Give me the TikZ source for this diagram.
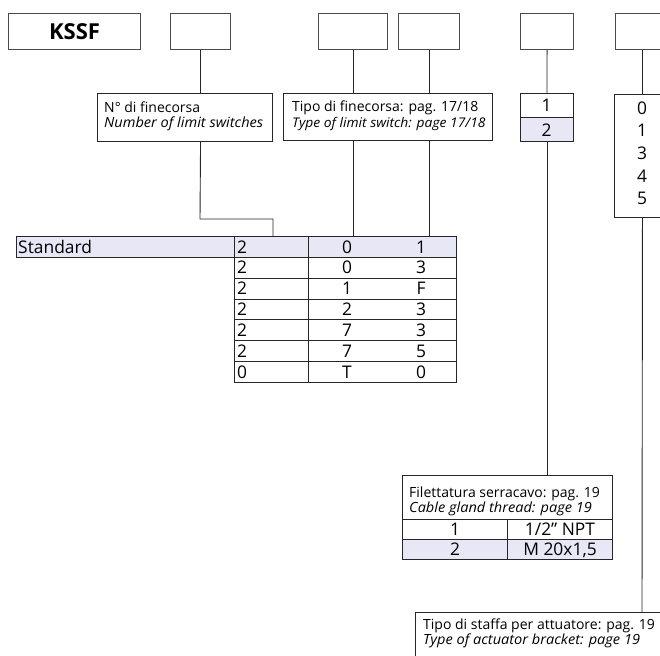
\documentclass[tikz,border=0pt]{standalone}
\usepackage{fontspec}
\setmainfont{Open Sans}[ItalicFeatures={FakeStretch=1.04}]
\definecolor{shade}{HTML}{E7E7F6}
\definecolor{frame}{HTML}{4A4A4A}
\begin{document}
\begin{tikzpicture}[x=1pt,y=-1pt,
  box/.style={draw=frame, line width=1.1pt, inner sep=0pt, anchor=north west},
  tab/.style={draw=black!85, line width=0.9pt, inner sep=0pt, anchor=north west},
  conn/.style={draw=black!85, line width=0.9pt},
  info/.style={font=\fontsize{14}{15}\selectfont, anchor=base west, inner sep=0pt},
  infoi/.style={font=\fontsize{14}{15}\selectfont\itshape, anchor=base west, inner sep=0pt},
  cell/.style={font=\fontsize{17.4}{18}\selectfont, inner sep=0pt, anchor=base},
  celll/.style={font=\fontsize{17.4}{18}\selectfont, inner sep=0pt, anchor=base west},
]
\useasboundingbox (0,0) rectangle (660,655);

% top boxes
\node[box, minimum width=132pt, minimum height=36pt, font=\bfseries\fontsize{22}{22}\selectfont] (k) at (8,13) {KSSF};
\node[box, minimum width=60pt, minimum height=36pt] (b2) at (170,13) {};
\node[box, minimum width=69pt, minimum height=36pt] (b3) at (318,13) {};
\node[box, minimum width=61pt, minimum height=36pt] (b4) at (398,13) {};
\node[box, minimum width=53pt, minimum height=36pt] (b5) at (520,13) {};
\node[box, minimum width=54pt, minimum height=36pt] (b6) at (615,13) {};

% info boxes
\node[tab, minimum width=175pt, minimum height=48pt] (i1) at (97,93) {};
\node[info] (i1a) at (104,113) {N° di finecorsa};
\node[infoi] (i1b) at (104,128) {Number of limit switches};
\node[tab, minimum width=209pt, minimum height=47pt] (i2) at (283,93) {};
\node[info] (i2a) at (292,112) {Tipo di finecorsa: pag. 17/18};
\node[infoi, font=\fontsize{13.3}{15}\selectfont\itshape] (i2b) at (292,128) {Type of limit switch: page 17/18};

% small box 1/2
\node[tab, minimum width=53pt, minimum height=24pt] (s1) at (520,93) {};
\node[tab, fill=shade, minimum width=53pt, minimum height=24pt] (s2) at (520,117) {};
\node[cell] (s1t) at (546.5,112) {1};
\node[cell] (s2t) at (546.5,137) {2};

% box 0-5
\node[tab, minimum width=56pt, minimum height=123pt] (r) at (614,94) {};
\node[cell] (r0) at (642,114.5) {0};
\node[cell] (r1) at (642,137) {1};
\node[cell] (r3) at (642,159.5) {3};
\node[cell] (r4) at (642,182) {4};
\node[cell] (r5) at (642,204.5) {5};

% main table
\node[tab, fill=shade, minimum width=218pt, minimum height=20.86pt] (std) at (16,236) {};
\node[celll] (stdt) at (18,253) {Standard};
\foreach \i/\a/\b/\c in {1/2/0/1, 2/2/0/3, 3/2/1/F, 4/2/2/3, 5/2/7/3, 6/2/7/5, 7/0/T/0}{
  \pgfmathsetmacro{\y}{236+(\i-1)*20.857}
  \ifnum\i=1
    \node[tab, fill=shade, minimum width=74pt, minimum height=20.86pt] (ta\i) at (234,\y) {};
    \node[tab, fill=shade, minimum width=148pt, minimum height=20.86pt] (tb\i) at (308,\y) {};
  \else
    \node[tab, minimum width=74pt, minimum height=20.86pt] (ta\i) at (234,\y) {};
    \node[tab, minimum width=148pt, minimum height=20.86pt] (tb\i) at (308,\y) {};
  \fi
  \node[celll] (xa\i) at (237,\y+17) {\a};
  \node[cell] (xb\i) at (347,\y+17) {\b};
  \node[cell] (xc\i) at (421,\y+17) {\c};
}

% cable gland box
\node[tab, minimum width=210pt, minimum height=44pt] (f) at (402,475) {};
\node[info] (fa) at (409,497) {Filettatura serracavo: pag. 19};
\node[infoi] (fb) at (409,512) {Cable gland thread: page 19};
\node[tab, minimum width=105pt, minimum height=20pt] (f1a) at (402,519) {};
\node[tab, minimum width=105pt, minimum height=20pt] (f1b) at (507,519) {};
\node[tab, fill=shade, minimum width=105pt, minimum height=20pt] (f2a) at (402,539) {};
\node[tab, fill=shade, minimum width=105pt, minimum height=20pt] (f2b) at (507,539) {};
\node[cell] (f1at) at (455,535) {1};
\node[cell] (f1bt) at (560,535) {1/2” NPT};
\node[cell] (f2at) at (455,555) {2};
\node[cell] (f2bt) at (560,555) {M 20x1,5};

% bracket box
\node[tab, minimum width=260pt, minimum height=60pt] (g) at (415,612) {};
\node[info] (ga) at (423,629) {Tipo di staffa per attuatore: pag. 19};
\node[infoi] (gb) at (423,644) {Type of actuator bracket: page 19};

% connectors
\coordinate (c1) at (200,219);
\coordinate (j1) at (273,236);
\coordinate (j6) at (642,612);
\draw[conn] (b2.south) -- (b2.south |- i1.north);
\draw[conn] (b2.south |- i1.south) -- (c1) -| (j1);
\draw[conn] (b3.south) -- (b3.south |- i2.north);
\draw[conn] (b4.south) -- (b4.south |- i2.north);
\draw[conn] (b3.south |- i2.south) -- (b3.south |- tb1.north);
\draw[conn] (b4.south |- i2.south) -- (b4.south |- tb1.north);
\draw[conn] (b5.south) -- (s1.north);
\draw[conn] (s2.south) -- (s2.south |- f.north);
\draw[conn] (b6.south) -- (b6.south |- r.north);
\draw[conn] (r.south) -- (j6);
\end{tikzpicture}
\end{document}
